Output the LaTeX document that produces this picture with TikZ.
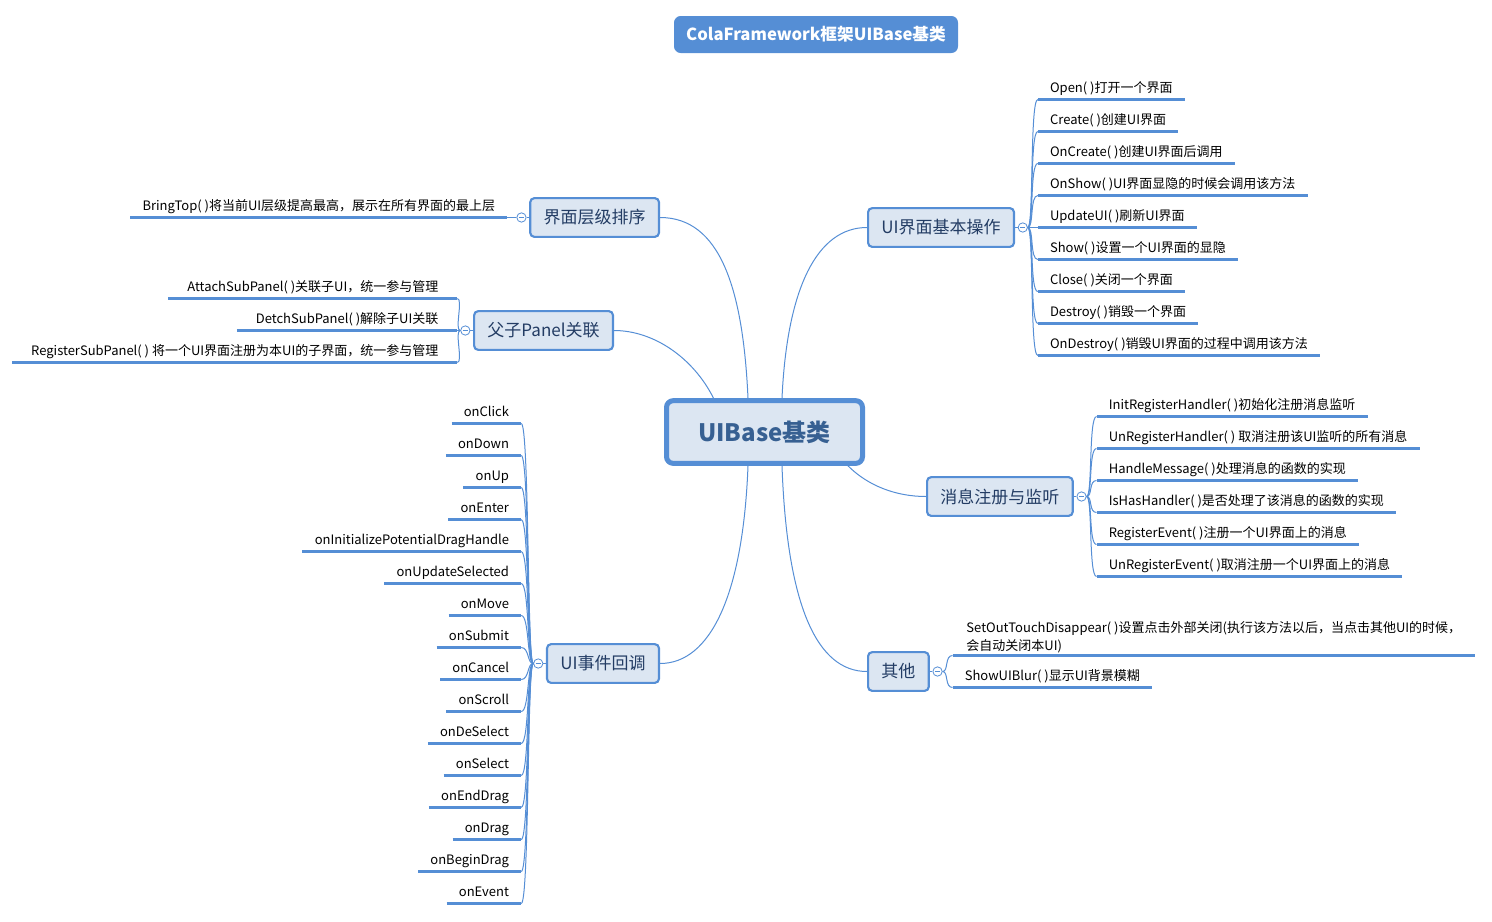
\documentclass[tikz,border=0pt]{standalone}
\usepackage{fontspec}
\setmainfont{Noto Sans CJK SC}
\usetikzlibrary{calc,positioning}
\definecolor{uiblue}{RGB}{85,142,213}
\definecolor{uifill}{RGB}{220,230,242}
\definecolor{uitext}{RGB}{35,60,100}
\definecolor{roottext}{RGB}{55,96,146}

\begin{document}
\begin{tikzpicture}[x=0.75pt,y=-0.75pt,every node/.style={font=\fontsize{9.75}{12}\selectfont}]
  \tikzset{title/.style={fill=uiblue,text=white,rounded corners=5pt,minimum width=213pt,minimum height=27.75pt,
                         font=\fontsize{12.5}{14}\selectfont\bfseries},
           root/.style={draw=uiblue,line width=3.75pt,fill=uifill,rounded corners=5pt,minimum width=147pt,
                        minimum height=47pt,text=roottext,font=\fontsize{18}{20}\selectfont\bfseries},
           topic/.style={draw=uiblue,line width=1.6pt,fill=uifill,rounded corners=3pt,minimum height=29pt,
                         inner xsep=10pt,text=uitext,font=\fontsize{12.75}{15}\selectfont},
           leaf/.style={inner xsep=9pt,inner ysep=2.5pt,text height=8pt,text depth=2.5pt},
           fold/.style={circle,draw=uiblue,fill=white,line width=0.6pt,minimum size=7pt,inner sep=0pt,
                        path picture={\draw[uiblue,line width=0.5pt] ([xshift=-2pt]path picture bounding box.center)
                                      -- ([xshift=2pt]path picture bounding box.center);}},
           link/.style={draw=uiblue,line width=0.75pt},
           uline/.style={draw=uiblue,line width=2.25pt}}
  \useasboundingbox (0,0) rectangle (1492,921);

  \node[title] (head) at (816,34.5) {ColaFramework框架UIBase基类};
  \node[root] (root) at (764.5,432) {UIBase基类};

  % main topics
  \node[topic,anchor=east] (layer) at (660,217.5) {界面层级排序};
  \node[topic,anchor=east] (panel) at (614,330.5) {父子Panel关联};
  \node[topic,anchor=east] (event) at (660,663.5) {UI事件回调};
  \node[topic,anchor=west] (basic) at (867,227.5) {UI界面基本操作};
  \node[topic,anchor=west] (msg) at (926,496.5) {消息注册与监听};
  \node[topic,anchor=west] (misc) at (867,671.5) {其他};

  \draw[link] ($(root.north)+(-16.5,0)$) .. controls +(-5,-110) and +(60,0) .. (layer.east);
  \draw[link] ($(root.north)+(-51,0)$) .. controls +(-20,-40) and +(40,0) .. (panel.east);
  \draw[link] ($(root.south)+(-16.5,0)$) .. controls +(-5,130) and +(50,0) .. (event.east);
  \draw[link] ($(root.north)+(17.5,0)$) .. controls +(5,-110) and +(-50,0) .. (basic.west);
  \draw[link] ($(root.south)+(83.5,0)$) .. controls +(20,20) and +(-30,0) .. (msg.west);
  \draw[link] ($(root.south)+(17.5,0)$) .. controls +(5,140) and +(-50,0) .. (misc.west);

  \node[fold,left=2pt of layer] (lfold) {};
  \node[fold,left=2pt of panel] (pfold) {};
  \node[fold,left=2pt of event] (efold) {};
  \node[fold,right=2pt of basic] (bfold) {};
  \node[fold,right=2pt of msg] (mfold) {};
  \node[fold,right=2pt of misc] (ofold) {};
  \draw[link] (layer.west) -- (lfold.east);
  \draw[link] (panel.west) -- (pfold.east);
  \draw[link] (event.west) -- (efold.east);
  \draw[link] (basic.east) -- (bfold.west);
  \draw[link] (msg.east) -- (mfold.west);
  \draw[link] (misc.east) -- (ofold.west);

  % 界面层级排序
  \node[leaf,anchor=south east] (l1) at ($(lfold)+(-14,0)$) {BringTop( )将当前UI层级提高最高，展示在所有界面的最上层};
  \draw[uline] (l1.south west) -- (l1.south east);
  \draw[link] (lfold.west) -- (l1.south east);

  % 父子Panel关联
  \foreach \txt [count=\i] in {AttachSubPanel( )关联子UI，统一参与管理,
                               DetchSubPanel( )解除子UI关联,
                               RegisterSubPanel( ) 将一个UI界面注册为本UI的子界面，统一参与管理}
    \node[leaf,anchor=south east,inner xsep=14pt] (p\i) at ($(pfold)+(-8,-64+32*\i)$) {\txt};
  \foreach \i in {1,...,3} {
    \draw[uline] (p\i.south west) -- (p\i.south east);
    \draw[link] (pfold.west) .. controls +(-6,0) and +(6,0) .. (p\i.south east);
  }

  % UI事件回调
  \foreach \txt [count=\i] in {onClick,onDown,onUp,onEnter,onInitializePotentialDragHandle,onUpdateSelected,
                               onMove,onSubmit,onCancel,onScroll,onDeSelect,onSelect,onEndDrag,onDrag,
                               onBeginDrag,onEvent}
    \node[leaf,anchor=south east] (e\i) at ($(efold)+(-17,-272+32*\i)$) {\txt};
  \foreach \i in {1,...,16} {
    \draw[uline] (e\i.south west) -- (e\i.south east);
    \draw[link] (efold.west) .. controls +(-6,0) and +(8,0) .. (e\i.south east);
  }

  % UI界面基本操作
  \foreach \txt [count=\i] in {Open( )打开一个界面,Create( )创建UI界面,OnCreate( )创建UI界面后调用,
                               OnShow( )UI界面显隐的时候会调用该方法,UpdateUI( )刷新UI界面,
                               Show( )设置一个UI界面的显隐,Close( )关闭一个界面,Destroy( )销毁一个界面,
                               OnDestroy( )销毁UI界面的过程中调用该方法}
    \node[leaf,anchor=south west] (b\i) at ($(bfold)+(15,-160+32*\i)$) {\txt};
  \foreach \i in {1,...,9} {
    \draw[uline] (b\i.south west) -- (b\i.south east);
    \draw[link] (bfold.east) .. controls +(6,0) and +(-8,0) .. (b\i.south west);
  }

  % 消息注册与监听
  \foreach \txt [count=\i] in {InitRegisterHandler( )初始化注册消息监听,
                               UnRegisterHandler( ) 取消注册该UI监听的所有消息,
                               HandleMessage( )处理消息的函数的实现,
                               IsHasHandler( )是否处理了该消息的函数的实现,
                               RegisterEvent( )注册一个UI界面上的消息,
                               UnRegisterEvent( )取消注册一个UI界面上的消息}
    \node[leaf,anchor=south west] (m\i) at ($(mfold)+(15,-112+32*\i)$) {\txt};
  \foreach \i in {1,...,6} {
    \draw[uline] (m\i.south west) -- (m\i.south east);
    \draw[link] (mfold.east) .. controls +(6,0) and +(-8,0) .. (m\i.south west);
  }

  % 其他
  \node[leaf,anchor=south west,text height=,text depth=,align=left,font=\fontsize{9.75}{13.5}\selectfont,
        minimum width=391.5pt,inner ysep=1.5pt] (o1) at ($(ofold)+(15,-16)$)
    {SetOutTouchDisappear( )设置点击外部关闭(执行该方法以后，当点击其他UI的时候，\\会自动关闭本UI)};
  \node[leaf,anchor=south west] (o2) at ($(ofold)+(15,16)$) {ShowUIBlur( )显示UI背景模糊};
  \foreach \i in {1,2} {
    \draw[uline] (o\i.south west) -- (o\i.south east);
    \draw[link] (ofold.east) .. controls +(6,0) and +(-8,0) .. (o\i.south west);
  }
\end{tikzpicture}
\end{document}
